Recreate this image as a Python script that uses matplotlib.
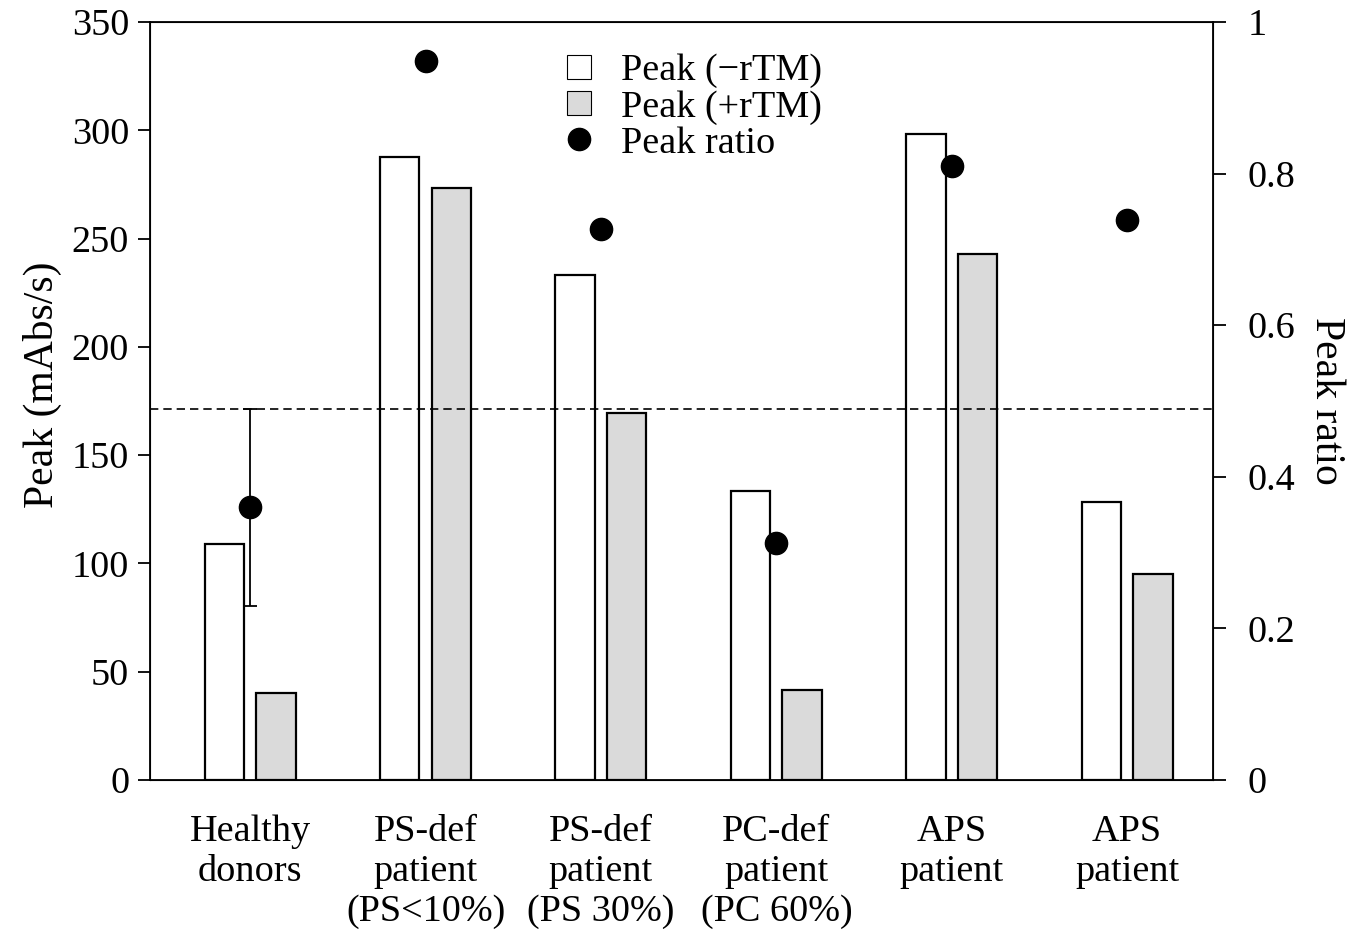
import numpy as np
import matplotlib.pyplot as plt
from matplotlib.lines import Line2D

plt.rcParams['font.family'] = ['Liberation Serif', 'DejaVu Serif']
plt.rcParams['font.size'] = 27.5

groups = ['Healthy\ndonors', 'PS-def\npatient\n(PS<10%)', 'PS-def\npatient\n(PS 30%)',
          'PC-def\npatient\n(PC 60%)', 'APS\npatient', 'APS\npatient']
peak_minus = [109, 287.5, 233, 133.5, 298.5, 128.5]
peak_plus = [40, 273.5, 169.5, 41.5, 243, 95]
ratio = [0.36, 0.948, 0.727, 0.313, 0.81, 0.739]
ratio_sd = 0.13   # healthy donors only
cutoff = 0.49

x = np.arange(len(groups))
w = 0.225

fig = plt.figure(figsize=(13.61, 9.36), dpi=100)
ax = fig.add_axes([0.1102, 0.1667, 0.7811, 0.8098])
ax.bar(x - 0.147, peak_minus, w, color='white', edgecolor='black', linewidth=1.6, zorder=2)
ax.bar(x + 0.147, peak_plus, w, color='#dadada', edgecolor='black', linewidth=1.6, zorder=2)
ax.set_ylim(0, 350)
ax.set_xlim(-0.571, 5.49)
ax.set_yticks(range(0, 351, 50))
ax.set_xticks(x)
ax.set_xticklabels(groups, linespacing=1.2)
ax.tick_params(axis='x', length=0, pad=25)
ax.tick_params(axis='y', direction='out', length=9, width=1.3, pad=6)
ax.set_ylabel('Peak (mAbs/s)', fontsize=30)
ax.yaxis.set_label_coords(-0.083, 0.521)
for s in ax.spines.values():
    s.set_linewidth(1.3)

ax2 = ax.twinx()
ax2.set_ylim(0, 1)
ax2.set_yticks([0, 0.2, 0.4, 0.6, 0.8, 1])
ax2.set_yticklabels(['0', '0.2', '0.4', '0.6', '0.8', '1'])
ax2.tick_params(axis='y', direction='out', length=9, width=1.3, pad=16)
ax2.set_ylabel('Peak ratio', fontsize=30, rotation=270, labelpad=36)
ax2.axhline(cutoff, color='black', linestyle=(0, (5, 3)), linewidth=1.2, zorder=1)
ax2.errorbar(x[:1], ratio[:1], yerr=ratio_sd, fmt='none', ecolor='black',
             elinewidth=1.3, capsize=5, capthick=1.3)
ax2.plot(x, ratio, 'o', color='black', markersize=16, linestyle='none', zorder=4)

handles = [
    Line2D([], [], marker='s', linestyle='none', markersize=17, markerfacecolor='white',
           markeredgecolor='black', markeredgewidth=0.8),
    Line2D([], [], marker='s', linestyle='none', markersize=17, markerfacecolor='#dadada',
           markeredgecolor='black', markeredgewidth=0.8),
    Line2D([], [], marker='o', linestyle='none', markersize=16, color='black'),
]
ax2.legend(handles, ['Peak (\u2212rTM)', 'Peak (+rTM)', 'Peak ratio'], loc='upper left',
           bbox_to_anchor=(0.357, 0.994), frameon=False, handlelength=1.2,
           handletextpad=0.5, labelspacing=0.04, borderpad=0.2, fontsize=27.5)

fig.savefig('out.png', dpi=100)
